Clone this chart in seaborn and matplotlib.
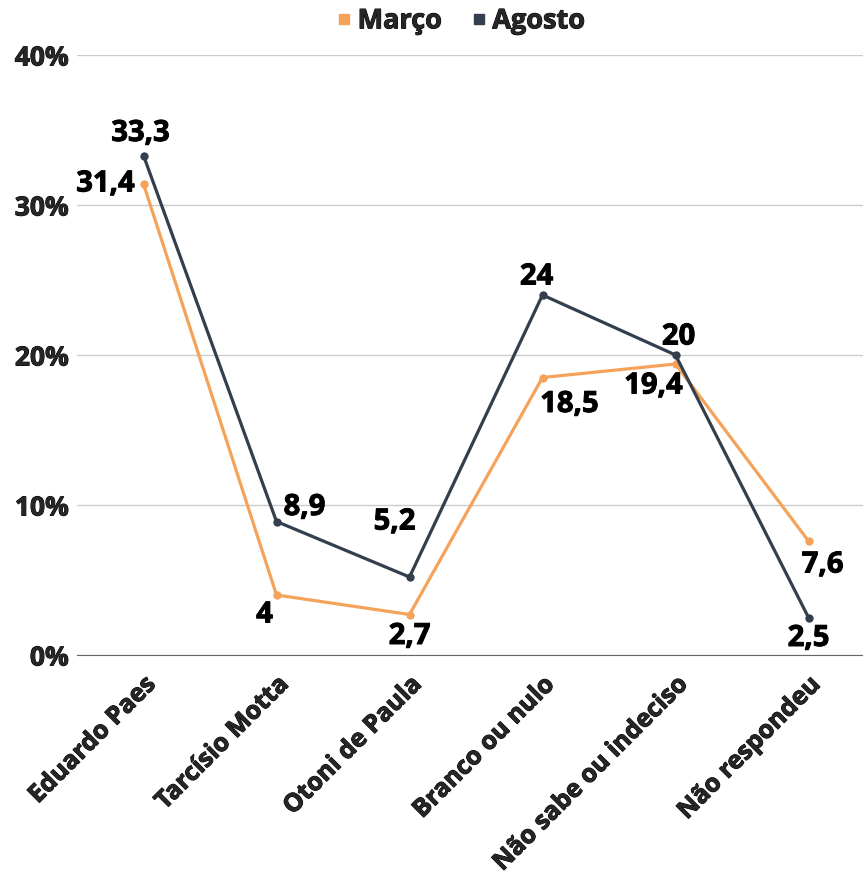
import numpy as np
import pandas as pd
import seaborn as sns
import matplotlib.pyplot as plt
import matplotlib.patheffects as pe
from matplotlib.lines import Line2D

categorias = ["Eduardo Paes", "Tarcísio Motta", "Otoni de Paula",
              "Branco ou nulo", "Não sabe ou indeciso", "Não respondeu"]
marco = [31.4, 4.0, 2.7, 18.5, 19.4, 7.6]
agosto = [33.3, 8.9, 5.2, 24.0, 20.0, 2.5]
rotulos_marco = ["31,4", "4", "2,7", "18,5", "19,4", "7,6"]
rotulos_agosto = ["33,3", "8,9", "5,2", "24", "20", "2,5"]

cores = {"Março": "#F5A25A", "Agosto": "#333F4C"}

df = pd.DataFrame({
    "categoria": categorias * 2,
    "valor": marco + agosto,
    "serie": ["Março"] * 6 + ["Agosto"] * 6,
})

sns.set_style("white")
plt.rcParams["font.family"] = ["Open Sans", "DejaVu Sans"]
PESO = "bold"
# engrossa um pouco o texto (fonte extra-bold não disponível)
grosso = [pe.withStroke(linewidth=0.7, foreground="black")]

fig = plt.figure(figsize=(8.63, 8.91), dpi=100)
ax = fig.add_axes([77 / 863, 236 / 891, 798 / 863, 600 / 891])

sns.lineplot(data=df, x="categoria", y="valor", hue="serie", palette=cores,
             sort=False, marker="o", markersize=6, markeredgewidth=0,
             linewidth=2.3, ax=ax, legend=False)

# deslocamentos dos rótulos (pixels)
off_marco = [(-38, 0), (-12, -20), (0, -22), (27, -27), (-22, -22), (14, -24)]
off_agosto = [(-3, 22), (28, 14), (-15, 55), (-6, 18), (3, 18), (0, -21)]
for i in range(len(categorias)):
    ax.annotate(rotulos_marco[i], (i, marco[i]), xytext=off_marco[i],
                textcoords="offset pixels", ha="center", va="center",
                fontsize=21, fontweight=PESO, color="black", path_effects=grosso)
    ax.annotate(rotulos_agosto[i], (i, agosto[i]), xytext=off_agosto[i],
                textcoords="offset pixels", ha="center", va="center",
                fontsize=21, fontweight=PESO, color="black", path_effects=grosso)

ax.set_xlim(-0.5, 5.5)
ax.set_ylim(0, 40)
ax.set_yticks([0, 10, 20, 30, 40])
ax.set_yticklabels(["0%", "10%", "20%", "30%", "40%"], fontsize=19, fontweight=PESO)
ax.set_xticks(range(len(categorias)))
ax.set_xticklabels(categorias, rotation=45, ha="right", rotation_mode="anchor",
                   fontsize=18, fontweight=PESO)
for t in ax.get_xticklabels() + ax.get_yticklabels():
    t.set_path_effects(grosso)
ax.tick_params(axis="y", length=0, pad=6)
ax.tick_params(axis="x", length=0, pad=12)
ax.grid(axis="y", color="#cccccc", linewidth=1)
ax.set_xlabel("")
ax.set_ylabel("")
for s in ["top", "right", "left"]:
    ax.spines[s].set_visible(False)
ax.spines["bottom"].set_color("#666666")
ax.spines["bottom"].set_zorder(0)

handles = [Line2D([], [], marker="s", linestyle="", color=cores[k], markersize=7)
           for k in ["Março", "Agosto"]]
leg = fig.legend(handles, ["Março", "Agosto"], loc="upper center", ncol=2,
                 bbox_to_anchor=(0.533, 1.018), frameon=False, handletextpad=0.15,
                 handlelength=0.7, columnspacing=1.0, prop={"size": 19.5, "weight": PESO})
for t in leg.get_texts():
    t.set_path_effects(grosso)

fig.savefig("out.png", dpi=100)
